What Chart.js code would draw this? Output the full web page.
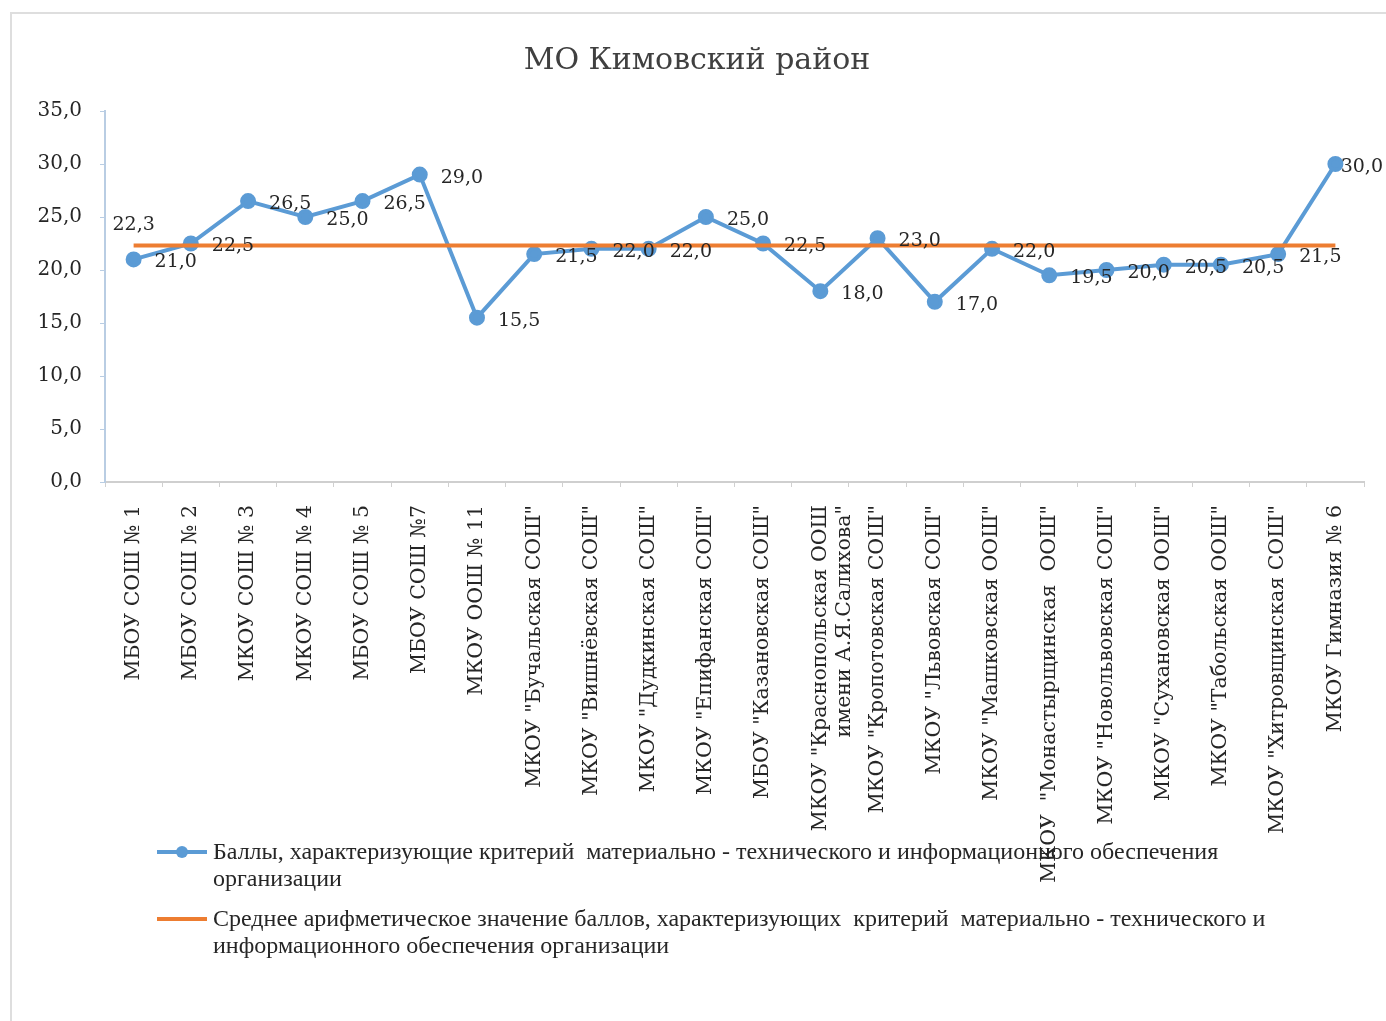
<!DOCTYPE html>
<html><head><meta charset="utf-8">
<script src="https://cdn.jsdelivr.net/npm/chart.js@4.4.1/dist/chart.umd.min.js"></script>
<style>
html,body{margin:0;padding:0;background:#fff;overflow:hidden;}
#wrap{position:relative;width:1386px;height:1021px;}
#frame{position:absolute;left:10px;top:12px;width:1420px;height:1100px;border:2px solid #dedede;box-sizing:border-box;}
canvas{position:absolute;left:0;top:0;}
</style></head><body>
<div id="wrap"><div id="frame"></div><canvas id="c" width="1386" height="1021"></canvas></div>
<script>
const chartTitle = 'МО Кимовский район';
const categories = [
  'МБОУ СОШ № 1',
  'МБОУ СОШ № 2',
  'МКОУ СОШ № 3',
  'МКОУ СОШ № 4',
  'МБОУ СОШ № 5',
  'МБОУ СОШ №7',
  'МКОУ ООШ № 11',
  'МКОУ "Бучальская СОШ"',
  'МКОУ "Вишнёвская СОШ"',
  'МКОУ "Дудкинская СОШ"',
  'МКОУ "Епифанская СОШ"',
  'МБОУ "Казановская СОШ"',
  ['МКОУ "Краснопольская ООШ', 'имени А.Я.Салихова"'],
  'МКОУ "Кропотовская СОШ"',
  'МКОУ "Львовская СОШ"',
  'МКОУ "Машковская ООШ"',
  'МКОУ  "Монастырщинская  ООШ"',
  'МКОУ "Новольвовская СОШ"',
  'МКОУ "Сухановская ООШ"',
  'МКОУ "Табольская ООШ"',
  'МКОУ "Хитровщинская СОШ"',
  'МКОУ Гимназия № 6'
];
const scores = [21.0, 22.5, 26.5, 25.0, 26.5, 29.0, 15.5, 21.5, 22.0, 22.0, 25.0, 22.5, 18.0, 23.0, 17.0, 22.0, 19.5, 20.0, 20.5, 20.5, 21.5, 30.0];
const averageSeries = [22.3, 22.3, 22.3, 22.3, 22.3, 22.3, 22.3, 22.3, 22.3, 22.3, 22.3, 22.3, 22.3, 22.3, 22.3, 22.3, 22.3, 22.3, 22.3, 22.3, 22.3, 22.3];
const seriesNames = [
  'Баллы, характеризующие критерий  материально - технического и информационного обеспечения организации',
  'Среднее арифметическое значение баллов, характеризующих  критерий  материально - технического и информационного обеспечения организации'
];
const yMin = 0, yMax = 35, yStep = 5;

const fmt = v => v.toFixed(1).replace('.', ',');
const SERIF = '"DejaVu Serif", serif';

const valueLabels = {
  id: 'valueLabels',
  afterDatasetsDraw(chart) {
    const ctx = chart.ctx;
    ctx.save();
    ctx.font = '19px ' + SERIF;
    ctx.fillStyle = '#262626';
    ctx.textBaseline = 'middle';
    ctx.textAlign = 'left';
    const ds0 = chart.data.datasets[0];
    chart.getDatasetMeta(0).data.forEach((pt, i) => {
      const txt = fmt(ds0.data[i]);
      const w = ctx.measureText(txt).width;
      let x = pt.x + 21;
      if (x + w > chart.width - 3) x = chart.width - 3 - w;
      ctx.fillText(txt, x, pt.y + 3);
    });
    const ds1 = chart.data.datasets[1];
    const p = chart.getDatasetMeta(1).data[0];
    ctx.textAlign = 'center';
    ctx.fillText(fmt(ds1.data[0]), p.x, p.y - 21);
    ctx.restore();
  }
};

const wrappedLegend = {
  id: 'wrappedLegend',
  afterDraw(chart) {
    const ctx = chart.ctx;
    ctx.save();
    ctx.font = '24px "Liberation Serif", serif';
    ctx.fillStyle = '#262626';
    ctx.textBaseline = 'middle';
    ctx.textAlign = 'left';
    const tops = [852, 919];
    const maxW = 1100, lineH = 27, textX = 213;
    chart.data.datasets.forEach((ds, k) => {
      const y = tops[k];
      ctx.strokeStyle = ds.borderColor;
      ctx.lineWidth = ds.borderWidth;
      ctx.beginPath(); ctx.moveTo(157, y); ctx.lineTo(207, y); ctx.stroke();
      if (ds.pointRadius > 0) {
        ctx.fillStyle = ds.pointBackgroundColor;
        ctx.beginPath(); ctx.arc(182, y, ds.pointRadius, 0, Math.PI * 2); ctx.fill();
      }
      ctx.fillStyle = '#262626';
      const words = ds.label.split(' ');
      let line = '', lines = [];
      words.forEach(w => {
        const test = line === '' ? w : line + ' ' + w;
        if (ctx.measureText(test).width > maxW && line !== '') { lines.push(line); line = w; }
        else line = test;
      });
      lines.push(line);
      lines.forEach((l, j) => ctx.fillText(l, textX, y + 1 + j * lineH));
    });
    ctx.restore();
  }
};

new Chart(document.getElementById('c'), {
  type: 'line',
  data: {
    labels: categories,
    datasets: [
      {
        label: seriesNames[0], data: scores,
        borderColor: '#5b9bd5', backgroundColor: '#5b9bd5',
        pointBackgroundColor: '#5b9bd5', pointBorderColor: '#5b9bd5',
        borderWidth: 4, pointRadius: 6, pointHoverRadius: 6, tension: 0, order: 1
      },
      {
        label: seriesNames[1], data: averageSeries,
        borderColor: '#ed7d31', backgroundColor: '#ed7d31',
        borderWidth: 4, pointRadius: 0, tension: 0, order: 0
      }
    ]
  },
  options: {
    responsive: false,
    animation: false,
    devicePixelRatio: 1,
    layout: { padding: { left: 30, right: 22, top: 20, bottom: 0 } },
    plugins: {
      legend: { display: false },
      tooltip: { enabled: false },
      title: {
        display: true, text: chartTitle, color: '#404040',
        font: { family: SERIF, size: 30, weight: 'normal' },
        padding: { top: 23, bottom: 32 }
      }
    },
    scales: {
      x: {
        offset: true,
        grid: { display: true, drawOnChartArea: false, offset: true, tickLength: 5, color: '#d0d0d0' },
        border: { display: true, color: '#cfcfcf', width: 2 },
        ticks: {
          autoSkip: false, minRotation: 90, maxRotation: 90, padding: 18,
          color: '#262626', font: { family: SERIF, size: 20.5 }
        },
        afterFit(s) { s.height = 539; }
      },
      y: {
        min: yMin, max: yMax,
        grid: { display: true, drawOnChartArea: false, tickLength: 5, color: '#b9cde3' },
        border: { display: true, color: '#b9cde3', width: 2 },
        ticks: {
          stepSize: yStep, padding: 18, color: '#262626',
          font: { family: SERIF, size: 20 },
          callback: v => fmt(v)
        },
        afterFit(s) { s.width = 75; }
      }
    }
  },
  plugins: [valueLabels, wrappedLegend]
});
</script>
</body></html>
